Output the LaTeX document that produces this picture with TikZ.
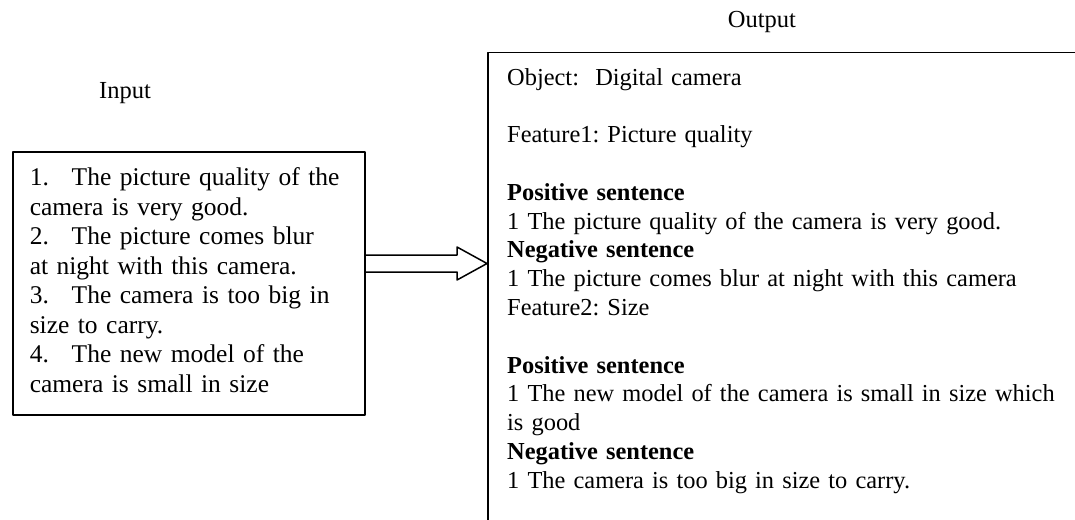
\documentclass[tikz,border=0pt]{standalone}
\usepackage{fontspec}
\setmainfont{Liberation Serif}
\usetikzlibrary{calc}
\frenchspacing
\tikzset{
  boxline/.style={draw, line width=1.5pt},
  lbl/.style={font=\fontsize{24.5}{28.8}\selectfont, inner sep=0pt, anchor=base},
  intext/.style={boxline, anchor=north west, font=\fontsize{25.5}{29.5}\selectfont,
    align=left, text width=318pt, inner xsep=17pt, inner ysep=13.5pt},
  outtext/.style={anchor=north west, font=\fontsize{24.4}{28.8}\selectfont,
    align=left, text width=620pt, inner sep=0pt}
}
\newcommand{\num}[1]{\makebox[42pt][l]{#1}}
\begin{document}
\begin{tikzpicture}[x=1pt, y=-1pt, line cap=round, line join=round]
  \useasboundingbox (0,0) rectangle (1075,519);
  \clip (0,0) rectangle (1075,519);
  % labels
  \node[lbl] (inlbl) at (125,98) {Input};
  \node[lbl] (outlbl) at (762,28) {Output};
  % input box
  \node[intext] (inbox) at (12,151) {\strut\mbox{\num{1.}The picture quality of the}\\
    camera is very good.\\
    \num{2.}The picture comes blur\\
    at night with this camera.\\
    \num{3.}The camera is too big in\\
    size to carry.\\
    \num{4.}The new model of the\\
    camera is small in size\strut};
  % output box, runs past the page
  \node[boxline, anchor=north west, minimum width=640pt, minimum height=520pt, inner sep=0pt] (outbox) at (487,52) {};
  \node[outtext] (outtxt) at (507,64.8) {\strut Object:\ \ Digital camera\\[28.8pt]
    Feature1: Picture quality\\[28.8pt]
    \textbf{Positive sentence}\\
    1 The picture quality of the camera is very good.\\
    \textbf{Negative sentence}\\
    1 The picture comes blur at night with this camera\\
    Feature2: Size\\[28.8pt]
    \textbf{Positive sentence}\\
    1 The new model of the camera is small in size which\\
    is good\\
    \textbf{Negative sentence}\\
    1 The camera is too big in size to carry.\strut};
  % block arrow
  \path (inbox.east |- 0,263.5) coordinate (tail) (outbox.west |- 0,263.5) coordinate (tip);
  \draw[line width=1.5pt] ($(tail)+(0,-8.5)$) -| ($(tip)+(-30,-16.5)$) -- (tip)
    -- ($(tip)+(-30,16.5)$) |- ($(tail)+(0,8.5)$);
\end{tikzpicture}
\end{document}
